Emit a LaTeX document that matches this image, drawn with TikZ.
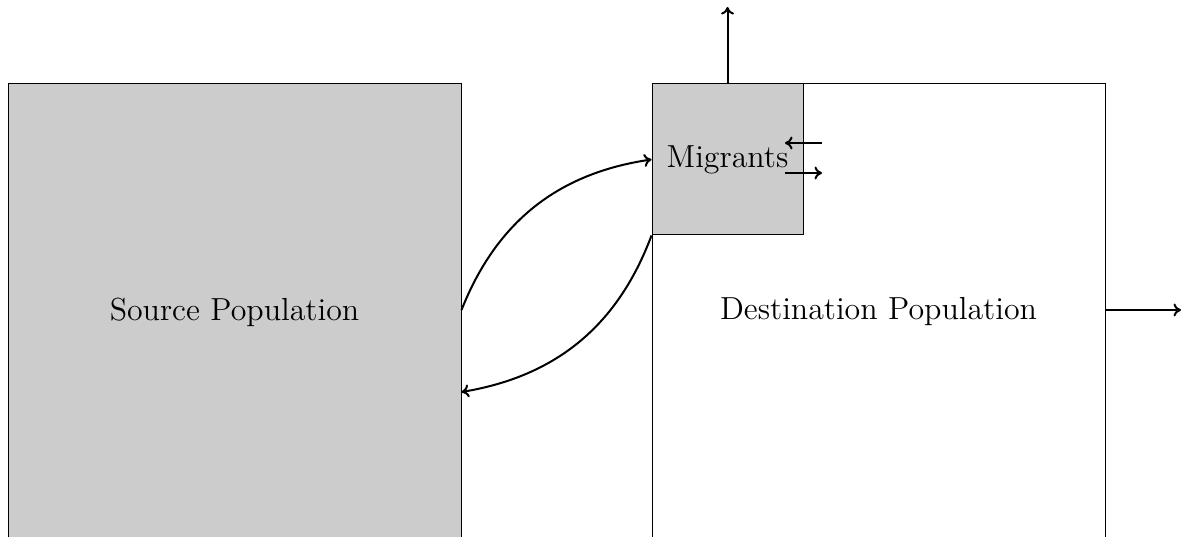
\documentclass[tikz,border=0pt]{standalone}
\usepackage{fontspec}
\newfontfamily\lmtwelve{lmroman12-regular.otf}
\usetikzlibrary{arrows.meta}
\begin{document}
\begin{tikzpicture}[x=1pt,y=-1pt,
  box/.style={draw=black,line width=1pt,inner sep=0pt,font=\lmtwelve\fontsize{31.9}{38}\selectfont},
  bigbox/.style={box,minimum width=453pt,minimum height=456pt},
  smallbox/.style={box,minimum width=151pt,minimum height=151pt},
  flow/.style={-{Computer Modern Rightarrow[length=7.5pt,width=13pt]},line width=2pt}]
\useasboundingbox (0,0) rectangle (1186,537);
\node[bigbox,fill=black!20] (src) at (234.5,312) {Source Population};
\node[bigbox,fill=white] (dst) at (878.5,312) {Destination Population};
\node[smallbox,fill=black!20] (mig) at (727.5,159.5) {Migrants};
\coordinate (top) at (727.5,7);
\coordinate (out) at (1181,310);
\coordinate (a1) at (822,143);
\coordinate (a2) at (785,143);
\coordinate (b1) at (785,173);
\coordinate (b2) at (822,173);
\draw[flow] (mig.north) -- (top);
\draw[flow] (dst.east |- out) -- (out);
\draw[flow] (a1) -- (a2);
\draw[flow] (b1) -- (b2);
\draw[flow] (src.east |- 0,310) to[bend left=30] (mig.west);
\draw[flow] (mig.south west) to[bend left=30] (src.east |- 0,392);
\end{tikzpicture}
\end{document}
